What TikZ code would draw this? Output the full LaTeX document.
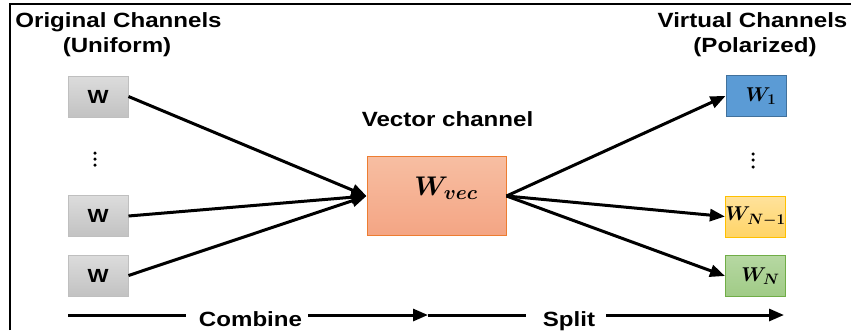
\documentclass[tikz,border=0pt]{standalone}
\usepackage{fix-cm}
\usepackage{amsmath}
\usepackage{bm}
\usepackage{fontspec}
\DeclareMathSizes{20}{20}{15}{11}
\DeclareMathSizes{27}{27}{20}{15}
\newfontfamily\lab{Liberation Sans}[FakeStretch=1.17]
\usetikzlibrary{arrows.meta}
\definecolor{grayT}{HTML}{DCDCDC}
\definecolor{grayB}{HTML}{C2C2C2}
\definecolor{grayD}{HTML}{BFBFBF}
\definecolor{vecT}{HTML}{F7BEA2}
\definecolor{vecB}{HTML}{F4A584}
\definecolor{vecD}{HTML}{ED7D31}
\definecolor{blueF}{HTML}{5B9BD5}
\definecolor{blueD}{HTML}{41719C}
\definecolor{yelT}{HTML}{FFE29C}
\definecolor{yelB}{HTML}{FFD466}
\definecolor{yelD}{HTML}{FFC000}
\definecolor{grnT}{HTML}{B6D8A2}
\definecolor{grnB}{HTML}{A0CB86}
\definecolor{grnD}{HTML}{70AD47}
\tikzset{
  txt/.style={font=\lab\bfseries\fontsize{20.6}{24}\selectfont, inner sep=0pt, anchor=base},
  wbox/.style={draw=grayD, line width=1pt, top color=grayT, bottom color=grayB, minimum width=60pt, minimum height=41pt, inner sep=0pt, font=\lab\bfseries\fontsize{19}{20}\selectfont},
  vbox/.style={line width=1pt, minimum width=60pt, minimum height=41pt, inner sep=0pt, font=\fontsize{20}{22}\selectfont},
  arr/.style={line width=3pt, -{Triangle[length=15pt,width=12pt]}},
  plain/.style={line width=3pt},
  dot/.style={circle, fill=black, inner sep=0pt, minimum size=3.5pt}
}
\begin{document}
\begin{tikzpicture}[x=1pt,y=-1pt]
\useasboundingbox (0,0) rectangle (851,330);
% frame
\draw[line width=1.5pt] (10,330) -- (10,4) -- (851,4);
% titles
\node[txt] (t1) at (118.5,27) {Original Channels};
\node[txt] (t2) at (117,52) {(Uniform)};
\node[txt] (t3) at (752.5,27) {Virtual Channels};
\node[txt] (t4) at (755,52) {(Polarized)};
\node[txt] (t5) at (447.5,126) {Vector channel};
% left boxes
\node[wbox] (w1) at (98,96.5) {W};
\node[wbox] (w2) at (98,216) {W};
\node[wbox] (w3) at (98,275.5) {W};
\node[dot] (ld1) at (95,153) {};
\node[dot] (ld2) at (95,159) {};
\node[dot] (ld3) at (95,165) {};
% vector box
\node[draw=vecD, line width=1pt, top color=vecT, bottom color=vecB, minimum width=139pt, minimum height=79pt, inner sep=0pt] (vec) at (436.5,196) {};
\node[inner sep=0pt, font=\fontsize{27}{28}\selectfont] (vlab) at (446,188) {$\bm{W_{vec}}$};
% right boxes
\node[vbox, draw=blueD, fill=blueF] (v1) at (756,96) {\hspace*{10pt}$\bm{W_1}$};
\node[vbox, draw=yelD, top color=yelT, bottom color=yelB] (v2) at (755.5,216.5) {$\bm{W_{N-1}}$};
\node[vbox, draw=grnD, top color=grnT, bottom color=grnB] (v3) at (755.5,276) {\hspace*{10pt}$\bm{W_N}$};
\node[dot] (rd1) at (753,154) {};
\node[dot] (rd2) at (753,160) {};
\node[dot] (rd3) at (753,167) {};
% connectors
\draw[arr] (w1.east) -- (vec.west);
\draw[arr] (w2.east) -- (vec.west);
\draw[arr] (w3.east) -- (vec.west);
\draw[arr] (vec.east) -- (v1.west);
\draw[arr] (vec.east) -- (v2.west);
\draw[arr] (vec.east) -- (v3.west);
% bottom
\node[txt] (comb) at (250.5,326) {Combine};
\node[txt] (split) at (569,326) {Split};
\coordinate (b0) at (68,315);
\coordinate (b1) at (186,315);
\coordinate (b2) at (308,315);
\coordinate (b3) at (428,315);
\coordinate (b4) at (428,315);
\coordinate (b5) at (526,315);
\coordinate (b6) at (606,315);
\coordinate (b7) at (784,315);
\draw[plain] (b0) -- (b1);
\draw[arr] (b2) -- (b3);
\draw[plain] (b4) -- (b5);
\draw[arr] (b6) -- (b7);
\end{tikzpicture}
\end{document}
